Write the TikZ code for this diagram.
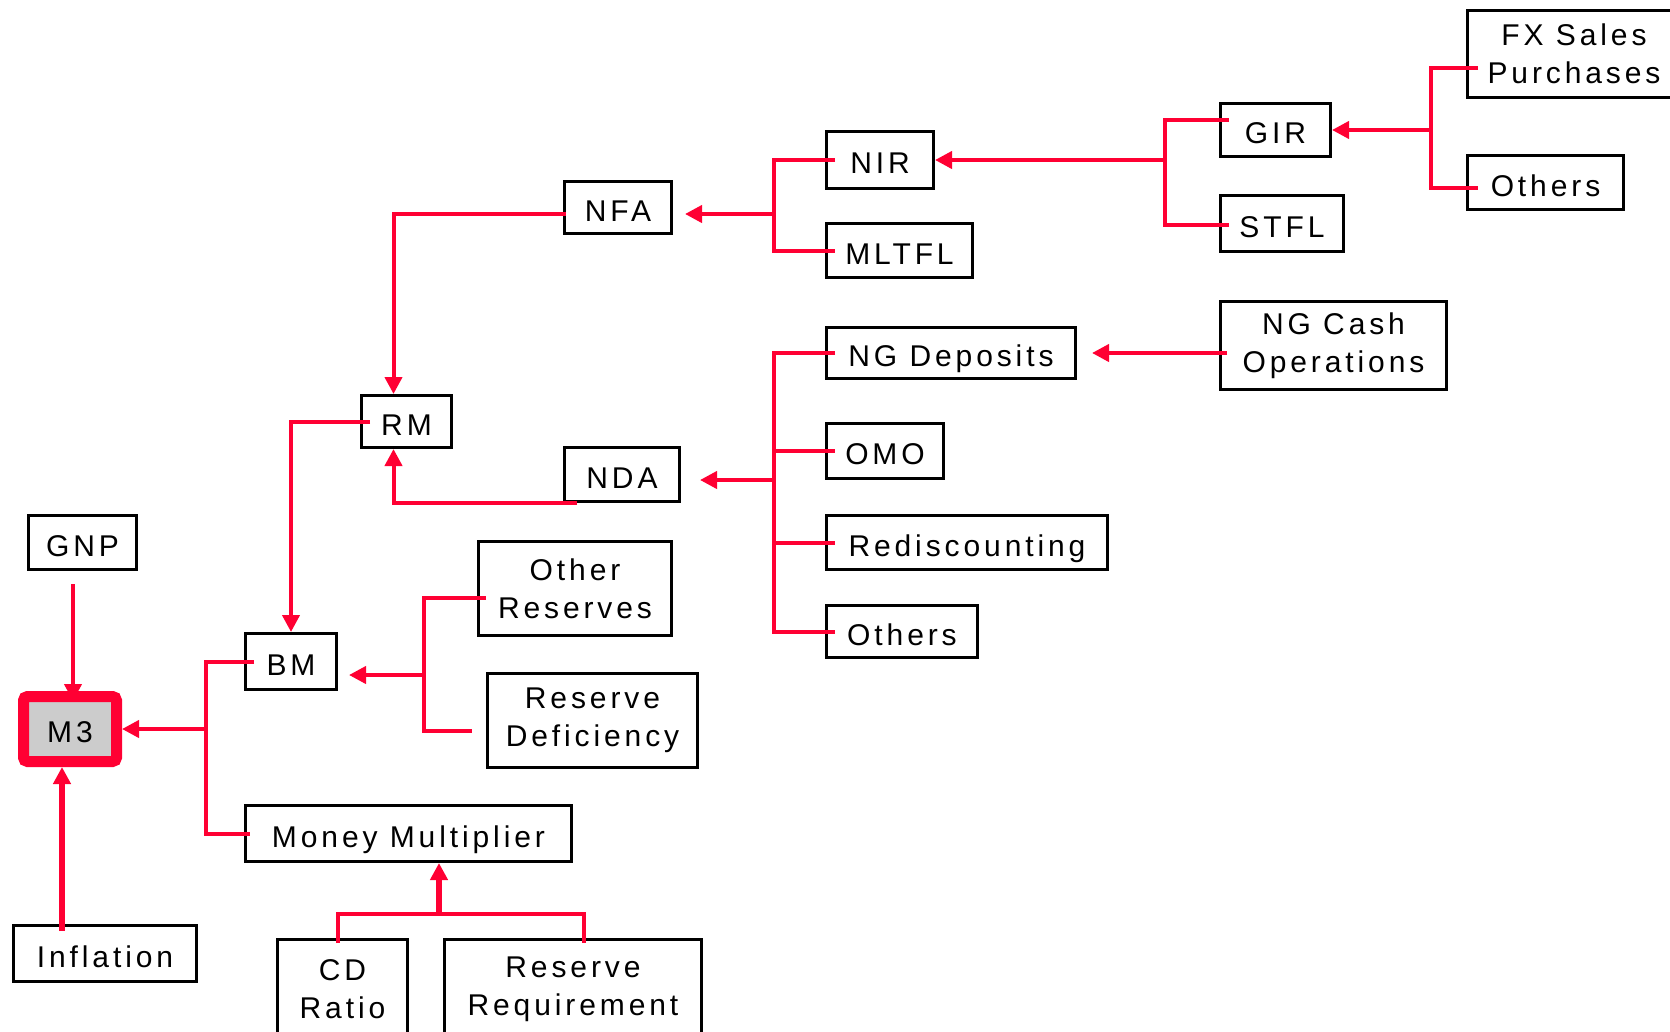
\documentclass[tikz,border=0pt]{standalone}
\usepackage{fontspec}
\setmainfont{Liberation Sans}[LetterSpace=13]
\usetikzlibrary{arrows.meta}
\definecolor{rosso}{HTML}{FF0033}
\definecolor{grigio}{HTML}{CCCCCC}

\begin{document}
\begin{tikzpicture}[x=1pt, y=-1pt]
  % Stili
  \tikzset{
    doppia/.style={draw, line width=3pt, inner sep=0pt, align=center, font=\fontsize{30}{38}\selectfont},
    casella/.style={doppia, text height=27pt, text depth=0pt},
    linea/.style={draw=rosso, line width=4pt},
    freccia/.style={linea, -{Triangle[length=17pt, width=17pt]}}
  }
  \path[use as bounding box, fill=white] (0,0) rectangle (1670,1031);

  % Caselle
  \node[doppia, minimum width=213pt, minimum height=87pt] (FX) at (1574,54) {FX Sales\\Purchases};
  \node[casella, minimum width=156pt, minimum height=54pt] (oth1) at (1545.5,182.5) {Others};
  \node[casella, minimum width=110pt, minimum height=53pt] (GIR) at (1275.5,130) {GIR};
  \node[casella, minimum width=123pt, minimum height=56pt] (STFL) at (1282,223.5) {STFL};
  \node[casella, minimum width=107pt, minimum height=57pt] (NIR) at (880,160) {NIR};
  \node[casella, minimum width=146pt, minimum height=54pt] (MLTFL) at (899.5,250.5) {MLTFL};
  \node[casella, minimum width=107pt, minimum height=52pt] (NFA) at (618,207.5) {NFA};
  \node[casella, minimum width=249pt, minimum height=51pt] (NGdep) at (951,353) {NG Deposits};
  \node[doppia, minimum width=226pt, minimum height=88pt] (NGcash) at (1333.5,345.5) {NG Cash\\Operations};
  \node[casella, minimum width=117pt, minimum height=55pt] (OMO) at (885,451) {OMO};
  \node[casella, minimum width=281pt, minimum height=54pt] (redisc) at (967,542.5) {Rediscounting};
  \node[casella, minimum width=151pt, minimum height=52pt] (oth2) at (902,631.5) {Others};
  \node[casella, minimum width=115pt, minimum height=54pt] (NDA) at (622,474.5) {NDA};
  \node[casella, minimum width=90pt, minimum height=52pt] (RM) at (406.5,421.5) {RM};
  \node[casella, minimum width=108pt, minimum height=54pt] (GNP) at (82.5,542.5) {GNP};
  \node[casella, draw=rosso, fill=grigio, line width=11pt, rounded corners=4pt,
        minimum width=93pt, minimum height=65pt] (M3) at (70,729) {M3};
  \node[casella, minimum width=91pt, minimum height=56pt] (BM) at (291,661.5) {BM};
  \node[doppia, minimum width=193pt, minimum height=94pt] (othres) at (575,588.5) {Other\\Reserves};
  \node[doppia, minimum width=210pt, minimum height=94pt] (resdef) at (592.5,720.5) {Reserve\\Deficiency};
  \node[casella, minimum width=326pt, minimum height=56pt] (MM) at (408.5,833.5) {Money Multiplier};
  \node[casella, minimum width=183pt, minimum height=56pt] (infl) at (105,953.5) {Inflation};
  \node[doppia, minimum width=130pt, minimum height=99pt] (CD) at (342.5,989) {CD\\Ratio};
  \node[doppia, minimum width=257pt, minimum height=99pt] (RR) at (573,989) {Reserve\\Requirement};

  % Punti di raccordo
  \coordinate (gA) at (1431,68);
  \coordinate (gB) at (1431,188);
  \coordinate (nA) at (1165,120);
  \coordinate (nB) at (1165,225);
  \coordinate (fJ) at (774,214);
  \coordinate (dJ) at (774,480);
  \coordinate (bJ) at (206,729);
  \coordinate (sA) at (424,598);
  \coordinate (sB) at (424,731);
  \coordinate (sJ) at (424,675);
  \coordinate (mJ) at (439,914);
  \coordinate (gnA) at (73,584);
  \coordinate (iA) at (62,931);

  % GIR
  \draw[linea, shorten <=-12pt, shorten >=-12pt] (FX.west |- gA) -- (gA) -- (gB) -- (oth1.west |- gB);
  \draw[freccia] (GIR.east -| gA) -- (GIR.east);

  % NIR
  \draw[linea, shorten <=-10pt, shorten >=-10pt] (GIR.west |- nA) -- (nA) -- (nB) -- (STFL.west |- nB);
  \draw[freccia] (NIR.east -| nA) -- (NIR.east);

  % NFA
  \draw[linea, shorten <=-10pt, shorten >=-10pt] (NIR.west) -| (fJ |- MLTFL.west) -- (MLTFL.west);
  \draw[freccia, shorten >=12pt] (fJ) -- (fJ -| NFA.east);

  % NDA
  \draw[linea, shorten <=-10pt, shorten >=-10pt] (NGdep.west) -| (dJ |- oth2.west) -- (oth2.west);
  \foreach \n in {OMO, redisc}
    \draw[linea, shorten >=-10pt] (dJ |- \n.west) -- (\n.west);
  \draw[freccia, shorten >=19pt] (dJ) -- (dJ -| NDA.east);
  \draw[freccia, shorten <=-8pt, shorten >=15pt] (NGcash.west |- NGdep.east) -- (NGdep.east);

  % RM
  \draw[freccia, shorten <=-3pt] (fJ -| NFA.west) -| ([xshift=-13pt]RM.north);
  \draw[freccia] ([xshift=14pt]NDA.south west) -| ([xshift=-13pt]RM.south);

  % BM
  \draw[freccia, shorten <=-10pt] (RM.west) -| (BM.north);
  \draw[linea, shorten <=-9pt, shorten >=14pt] (othres.west |- sA) -- (sA) -- (sB) -- (resdef.west |- sB);
  \draw[freccia, shorten >=11pt] (sJ) -- (sJ -| BM.east);

  % Money Multiplier
  \draw[linea, shorten <=-5pt, shorten >=-5pt] ([xshift=-5pt]CD.north) |- (mJ) -| ([xshift=11pt]RR.north);
  \draw[freccia, line width=6pt] (mJ) -- (mJ |- MM.south);

  % M3
  \draw[linea, shorten <=-10pt, shorten >=-6pt] (BM.west) -| (bJ |- MM.west) -- (MM.west);
  \draw[freccia] (bJ) -- (M3.east);
  \draw[freccia, shorten >=-10pt] (gnA) -- (gnA |- M3.north);
  \draw[freccia, line width=6pt] (iA) -- (iA |- M3.south);
\end{tikzpicture}
\end{document}
